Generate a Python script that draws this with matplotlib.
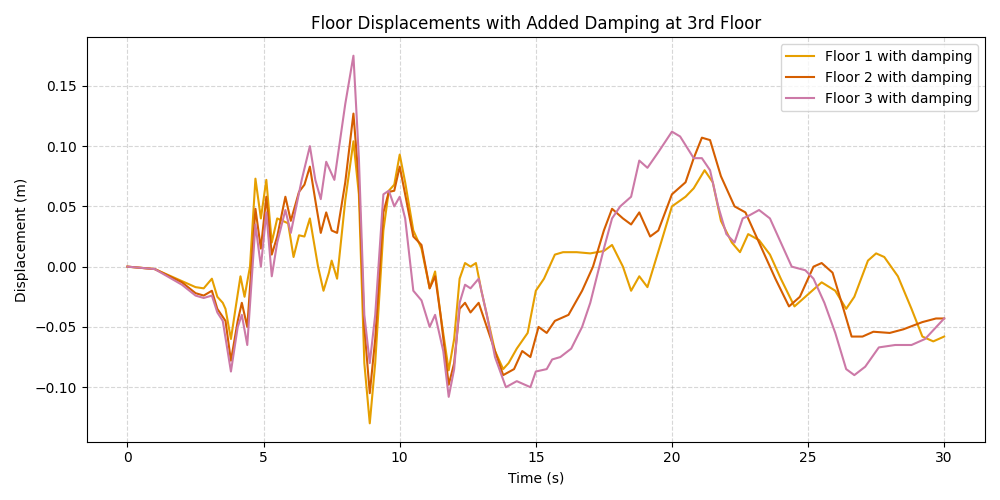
import numpy as np
import matplotlib
matplotlib.use('agg')
from matplotlib import pyplot as plt

# values (time s, displacement m)
t1 = [0, 1, 2, 2.5, 2.8, 3.1, 3.3, 3.5, 3.6, 3.8, 4.0, 4.15, 4.3, 4.5, 4.7, 4.9, 5.1, 5.3, 5.5, 5.9,
      6.1, 6.3, 6.5, 6.7, 7.0, 7.2, 7.4, 7.5, 7.7, 8.0, 8.3, 8.5, 8.7, 8.9, 9.1, 9.4, 9.6, 9.8, 10.0,
      10.2, 10.5, 10.8, 11.1, 11.3, 11.5, 11.8, 12.0, 12.2, 12.4, 12.6, 12.8, 13.0, 13.5, 13.8, 14.0,
      14.3, 14.7, 15.0, 15.3, 15.7, 16.0, 16.5, 17.0, 17.5, 17.8, 18.2, 18.5, 18.8, 19.1, 19.6, 20.0,
      20.5, 20.8, 21.2, 21.5, 21.8, 22.2, 22.5, 22.8, 23.2, 23.6, 24.0, 24.5, 25.0, 25.5, 26.0, 26.4,
      26.7, 27.2, 27.5, 27.8, 28.3, 28.8, 29.2, 29.6, 30]
floor1 = [0, -0.002, -0.012, -0.017, -0.018, -0.01, -0.025, -0.03, -0.035, -0.06, -0.03, -0.008, -0.025,
          0.0, 0.073, 0.04, 0.072, 0.02, 0.04, 0.036, 0.008, 0.026, 0.025, 0.04, 0.0, -0.02, -0.005, 0.005,
          -0.01, 0.055, 0.104, 0.06, -0.08, -0.13, -0.08, 0.03, 0.063, 0.068, 0.093, 0.07, 0.03, 0.015,
          -0.018, -0.004, -0.04, -0.086, -0.06, -0.01, 0.003, 0.0, 0.003, -0.02, -0.07, -0.085, -0.08,
          -0.068, -0.055, -0.02, -0.01, 0.01, 0.012, 0.012, 0.011, 0.013, 0.018, 0.0, -0.02, -0.008,
          -0.017, 0.02, 0.05, 0.058, 0.065, 0.08, 0.07, 0.038, 0.02, 0.012, 0.027, 0.022, 0.01, -0.01,
          -0.033, -0.023, -0.013, -0.02, -0.035, -0.025, 0.005, 0.011, 0.008, -0.008, -0.035, -0.058,
          -0.062, -0.058]

t2 = [0, 1, 2, 2.5, 2.8, 3.1, 3.3, 3.6, 3.8, 4.05, 4.2, 4.4, 4.7, 4.9, 5.1, 5.3, 5.5, 5.8, 6.0, 6.3,
      6.5, 6.7, 6.9, 7.1, 7.3, 7.5, 7.7, 8.0, 8.3, 8.5, 8.7, 8.9, 9.1, 9.4, 9.6, 9.8, 10.0, 10.2, 10.5,
      10.8, 11.1, 11.3, 11.5, 11.8, 12.0, 12.2, 12.4, 12.6, 12.9, 13.2, 13.5, 13.8, 14.2, 14.5, 14.8,
      15.1, 15.4, 15.7, 16.2, 16.7, 17.1, 17.5, 17.8, 18.2, 18.5, 18.8, 19.2, 19.5, 20.0, 20.5, 20.8,
      21.1, 21.4, 21.8, 22.3, 22.7, 23.0, 23.4, 23.8, 24.3, 24.7, 25.2, 25.5, 25.9, 26.3, 26.6, 27.0,
      27.4, 28.0, 28.5, 29.2, 29.7, 30]
floor2 = [0, -0.002, -0.013, -0.022, -0.024, -0.02, -0.035, -0.045, -0.078, -0.045, -0.03, -0.05, 0.048,
          0.015, 0.058, 0.01, 0.025, 0.058, 0.038, 0.062, 0.068, 0.083, 0.055, 0.028, 0.045, 0.03, 0.028,
          0.07, 0.127, 0.07, -0.05, -0.105, -0.06, 0.045, 0.062, 0.063, 0.083, 0.06, 0.025, 0.018, -0.018,
          -0.008, -0.04, -0.098, -0.08, -0.035, -0.03, -0.038, -0.03, -0.05, -0.07, -0.09, -0.085, -0.07,
          -0.075, -0.05, -0.055, -0.045, -0.04, -0.02, 0.0, 0.03, 0.048, 0.04, 0.035, 0.045, 0.025, 0.03,
          0.06, 0.07, 0.09, 0.107, 0.105, 0.075, 0.05, 0.045, 0.03, 0.01, -0.01, -0.033, -0.025, 0.0,
          0.003, -0.005, -0.035, -0.058, -0.058, -0.054, -0.055, -0.052, -0.046, -0.043, -0.043]

t3 = [0, 1, 2, 2.5, 2.8, 3.1, 3.3, 3.5, 3.8, 4.05, 4.2, 4.4, 4.7, 4.9, 5.1, 5.3, 5.5, 5.8, 6.0, 6.4,
      6.7, 6.9, 7.1, 7.3, 7.6, 8.0, 8.3, 8.5, 8.7, 8.9, 9.1, 9.4, 9.6, 9.8, 10.0, 10.2, 10.5, 10.8,
      11.1, 11.3, 11.6, 11.8, 12.0, 12.2, 12.4, 12.6, 12.9, 13.2, 13.5, 13.9, 14.3, 14.8, 15.0, 15.4,
      15.6, 15.9, 16.3, 16.7, 17.0, 17.5, 17.8, 18.1, 18.5, 18.8, 19.1, 19.5, 20.0, 20.3, 20.8, 21.1,
      21.4, 21.7, 22.0, 22.3, 22.6, 22.8, 23.2, 23.6, 24.0, 24.4, 24.9, 25.2, 25.6, 26.0, 26.4, 26.7,
      27.1, 27.6, 28.2, 28.8, 29.3, 30]
floor3 = [0, -0.002, -0.015, -0.024, -0.026, -0.024, -0.038, -0.045, -0.087, -0.05, -0.04, -0.065, 0.035,
          0.0, 0.045, -0.008, 0.02, 0.047, 0.028, 0.072, 0.1, 0.072, 0.056, 0.087, 0.072, 0.135, 0.175,
          0.09, -0.04, -0.08, -0.04, 0.06, 0.063, 0.05, 0.058, 0.04, -0.02, -0.028, -0.05, -0.04, -0.07,
          -0.108, -0.085, -0.03, -0.015, -0.018, -0.01, -0.04, -0.075, -0.1, -0.095, -0.1, -0.087, -0.085,
          -0.077, -0.075, -0.068, -0.05, -0.03, 0.015, 0.04, 0.05, 0.058, 0.088, 0.082, 0.095, 0.112, 0.108,
          0.09, 0.09, 0.08, 0.05, 0.027, 0.02, 0.04, 0.042, 0.047, 0.04, 0.02, 0.0, -0.003, -0.01, -0.03,
          -0.055, -0.085, -0.09, -0.083, -0.067, -0.065, -0.065, -0.06, -0.043]

fig, ax = plt.subplots(figsize=(10, 5), dpi=100)
ax.plot(t1, floor1, color='#E69F00', lw=1.5, label='Floor 1 with damping')
ax.plot(t2, floor2, color='#D55E00', lw=1.5, label='Floor 2 with damping')
ax.plot(t3, floor3, color='#CC79A7', lw=1.5, label='Floor 3 with damping')

ax.set_title('Floor Displacements with Added Damping at 3rd Floor')
ax.set_xlabel('Time (s)')
ax.set_ylabel('Displacement (m)')
ax.grid(True, linestyle='--', alpha=0.5)
ax.legend(loc='upper right')
plt.tight_layout()
plt.savefig('out.png')
